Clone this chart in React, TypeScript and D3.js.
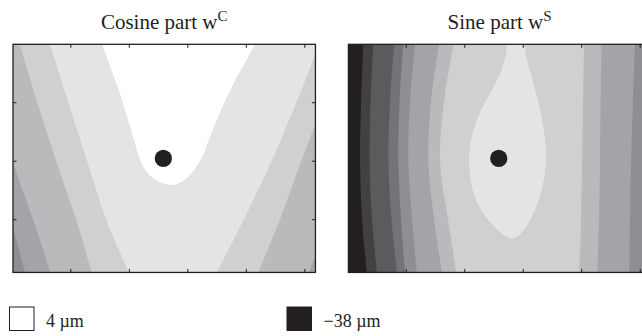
import React, { useEffect, useRef } from 'react';
import * as d3 from 'd3';

type Pt = [number, number];

// ---------- data ----------
const panelTitles = ['Cosine part w', 'Sine part w'];
const panelSuperscripts = ['C', 'S'];
const legendValues = [4, -38];
const legendLabels = ['4 µm', '−38 µm'];
// contour level fills, from highest (4 µm) to lowest (−38 µm)
const levelColors = ['#ffffff', '#e3e4e6', '#cfd0d2', '#b9babc', '#a3a4a7', '#8e8f92', '#737477', '#5a5b5d', '#414042', '#231f20'];
const xTicks = [-2, -1, 0, 1, 2];
const yTicks = [-1, 0, 1];
const xDomain: [number, number] = [-2.98, 2.19];
const yDomain: [number, number] = [-1.91, 1.99];
const markerPoint: Pt = [-0.41, 0.04];

// Cosine part: contour lines (top -> bottom)
const cosLine1: Pt[] = [[-3.087, -0.74], [-2.979, -1.15], [-2.877, -1.526], [-2.774, -1.908], [-2.689, -2.244]];
const cosLine2: Pt[] = [[-3.412, 1.209], [-2.985, -0.017], [-2.774, -0.621], [-2.574, -1.185], [-2.346, -1.908], [-2.244, -2.244]];
const cosLine2R: Pt[] = [[2.439, -1.014], [2.217, -1.561], [2.08, -1.908], [1.944, -2.244]];
const cosLine3: Pt[] = [[-2.962, 2.328], [-2.865, 1.99], [-2.569, 1.009], [-2.244, 0], [-1.903, -0.997], [-1.634, -1.908], [-1.526, -2.244]];
const cosLine3R: Pt[] = [[2.439, 1.294], [2.183, 0.61], [1.892, -0.159], [1.585, -0.997], [1.214, -1.908], [1.072, -2.244]];
const cosLine4: Pt[] = [[-2.45, 2.328], [-2.347, 1.99], [-2.039, 1.009], [-1.715, 0], [-1.39, -0.997], [-1.009, -1.908], [-0.894, -2.244]];
const cosLine4R: Pt[] = [[2.303, 2.147], [2.183, 1.806], [1.87, 1.009], [1.443, 0], [0.969, -0.997], [0.503, -1.908], [0.32, -2.244]];
const cosCore: Pt[] = [[-1.526, 2.234], [-1.458, 1.99], [-1.321, 1.619], [-1.185, 1.243], [-1.065, 0.867], [-0.962, 0.525], [-0.877, 0.234], [-0.791, -0.022], [-0.672, -0.219], [-0.535, -0.33], [-0.381, -0.398], [-0.262, -0.415], [-0.125, -0.373], [0.012, -0.279], [0.149, -0.108], [0.268, 0.097], [0.354, 0.32], [0.456, 0.576], [0.576, 0.867], [0.713, 1.157], [0.849, 1.431], [1.003, 1.704], [1.156, 1.99], [1.276, 2.234]];

// Sine part: contour lines (top -> bottom)
const sinLine1: Pt[] = [[-2.713, 2.234], [-2.725, 1.99], [-2.764, 1.009], [-2.781, 0], [-2.747, -0.997], [-2.667, -1.908], [-2.644, -2.244]];
const sinLine2: Pt[] = [[-2.542, 2.234], [-2.554, 1.99], [-2.602, 1.009], [-2.619, 0], [-2.576, -0.997], [-2.496, -1.908], [-2.474, -2.244]];
const sinLine3: Pt[] = [[-2.183, 2.234], [-2.2, 1.99], [-2.268, 1.009], [-2.297, 0], [-2.243, -0.997], [-2.154, -1.908], [-2.123, -2.244]];
const sinLine4: Pt[] = [[-2.021, 2.234], [-2.041, 1.99], [-2.106, 1.009], [-2.126, 0], [-2.08, -0.997], [-2.012, -1.908], [-1.986, -2.244]];
const sinLine5: Pt[] = [[-1.815, 2.234], [-1.841, 1.99], [-1.926, 1.009], [-1.956, 0], [-1.892, -0.997], [-1.812, -1.908], [-1.781, -2.244]];
const sinLine6: Pt[] = [[-1.397, 2.234], [-1.431, 1.99], [-1.568, 1.009], [-1.614, 0], [-1.516, -0.997], [-1.385, -1.908], [-1.345, -2.244]];
const sinLine7: Pt[] = [[-1.149, 2.234], [-1.186, 1.99], [-1.345, 1.009], [-1.414, 0], [-1.277, -0.997], [-1.14, -1.908], [-1.097, -2.244]];
const sinLine8: Pt[] = [[1.056, 2.234], [1.048, 1.99], [1.031, 1.009], [1.014, 0], [0.997, -0.997], [0.968, -1.908], [0.954, -2.244]];
const sinLine9: Pt[] = [[1.364, 2.234], [1.35, 1.99], [1.33, 1.009], [1.321, 0], [1.304, -0.997], [1.275, -1.908], [1.262, -2.244]];
const sinLine10: Pt[] = [[1.937, 2.234], [1.92, 1.99], [1.885, 1.009], [1.851, 0], [1.834, -0.997], [1.822, -1.908], [1.817, -2.244]];
const sinCore: Pt[] = [[-0.303, 2.234], [-0.268, 1.99], [-0.337, 1.619], [-0.491, 1.277], [-0.696, 0.901], [-0.832, 0.559], [-0.909, 0.183], [-0.909, -0.159], [-0.858, -0.501], [-0.747, -0.774], [-0.576, -1.031], [-0.371, -1.236], [-0.171, -1.33], [-0.012, -1.219], [0.159, -0.945], [0.296, -0.603], [0.373, -0.244], [0.398, 0.097], [0.373, 0.439], [0.304, 0.832], [0.176, 1.344], [0.074, 1.72], [0.031, 1.99], [0.022, 2.234]];

type Band = { level: number; left: Pt[] | null; right: Pt[] | null };
const cosBackground = 5;
const cosBands: Band[] = [
  { level: 4, left: cosLine1, right: null },
  { level: 3, left: cosLine2, right: cosLine2R },
  { level: 2, left: cosLine3, right: cosLine3R },
  { level: 1, left: cosLine4, right: cosLine4R },
];
const cosCoreLevel = 0;
const sinBackground = 9;
const sinBands: Band[] = [
  { level: 8, left: sinLine1, right: null },
  { level: 7, left: sinLine2, right: null },
  { level: 6, left: sinLine3, right: null },
  { level: 5, left: sinLine4, right: null },
  { level: 4, left: sinLine5, right: sinLine10 },
  { level: 3, left: sinLine6, right: sinLine9 },
  { level: 2, left: sinLine7, right: sinLine8 },
];
const sinCoreLevel = 1;

const panels = [
  { background: cosBackground, bands: cosBands, core: cosCore, coreLevel: cosCoreLevel },
  { background: sinBackground, bands: sinBands, core: sinCore, coreLevel: sinCoreLevel },
];

// ---------- layout ----------
const W = 642, H = 336;
const UNIT = 58.5;
const panelLefts = [13, 348.4];
const panelTop = 44.3;
const INK = '#231f20';
const FONT = '"Liberation Serif", "Times New Roman", Times, serif';

export default function App() {
  const ref = useRef<SVGSVGElement>(null);

  useEffect(() => {
    const svg = d3.select(ref.current);
    svg.selectAll('*').remove();
    const plotW = (xDomain[1] - xDomain[0]) * UNIT;
    const plotH = (yDomain[1] - yDomain[0]) * UNIT;

    panels.forEach((p, i) => {
      const x0 = panelLefts[i];
      const xs = d3.scaleLinear().domain(xDomain).range([x0, x0 + plotW]);
      const ys = d3.scaleLinear().domain(yDomain).range([panelTop + plotH, panelTop]);
      const line = d3.line<Pt>().x(d => xs(d[0])).y(d => ys(d[1])).curve(d3.curveCatmullRom.alpha(0.5));
      const corner = (x: number, y: number) => `L${xs(x)},${ys(y)}`;
      const bandPath = (b: Band) => {
        const L: Pt[] = b.left ?? [[-6, 3.5], [-6, -3.5]];
        const R: Pt[] = b.right ?? [[6, 3.5], [6, -3.5]];
        const lt = L[0], lb = L[L.length - 1], rt = R[0], rb = R[R.length - 1];
        return (line(L) as string) + corner(lb[0], -3.5) + corner(rb[0], -3.5) +
          (line([...R].reverse()) as string).replace(/^M/, 'L') + corner(rt[0], 3.5) + corner(lt[0], 3.5) + 'Z';
      };

      const clipId = `clip${i}`;
      svg.append('clipPath').attr('id', clipId).append('rect')
        .attr('x', xs(xDomain[0])).attr('y', ys(yDomain[1])).attr('width', plotW).attr('height', plotH);

      const g = svg.append('g').attr('clip-path', `url(#${clipId})`);
      g.append('rect').attr('x', xs(xDomain[0])).attr('y', ys(yDomain[1])).attr('width', plotW).attr('height', plotH)
        .attr('fill', levelColors[p.background]);
      p.bands.forEach(b => {
        g.append('path').attr('d', bandPath(b)).attr('fill', levelColors[b.level]);
      });
      g.append('path').attr('d', (line(p.core) as string) + 'Z').attr('fill', levelColors[p.coreLevel]);

      g.append('circle').attr('cx', xs(markerPoint[0])).attr('cy', ys(markerPoint[1])).attr('r', 8.6).attr('fill', INK);

      // axes with inward ticks
      const tk = 3.5;
      const axes = [
        { ax: d3.axisBottom(xs).tickValues(xTicks).tickSize(-tk), t: `translate(0,${ys(yDomain[0])})` },
        { ax: d3.axisTop(xs).tickValues(xTicks).tickSize(-tk), t: `translate(0,${ys(yDomain[1])})` },
        { ax: d3.axisLeft(ys).tickValues(yTicks).tickSize(-tk), t: `translate(${xs(xDomain[0])},0)` },
        { ax: d3.axisRight(ys).tickValues(yTicks).tickSize(-tk), t: `translate(${xs(xDomain[1])},0)` },
      ];
      axes.forEach(a => {
        const ag = g.append('g').attr('transform', a.t).call(a.ax.tickFormat(() => '') as any);
        ag.select('.domain').remove();
        ag.selectAll('line').attr('stroke', INK).attr('stroke-width', 1);
      });

      svg.append('rect').attr('x', xs(xDomain[0])).attr('y', ys(yDomain[1])).attr('width', plotW).attr('height', plotH)
        .attr('fill', 'none').attr('stroke', INK).attr('stroke-width', 1.3);

      // title
      const cx = x0 + plotW / 2;
      const t = svg.append('text').attr('x', cx).attr('y', 28.5).attr('text-anchor', 'middle')
        .attr('font-family', FONT).attr('font-size', 21).attr('fill', INK);
      t.append('tspan').text(panelTitles[i]);
      t.append('tspan').attr('dy', -8).attr('font-size', 15).text(panelSuperscripts[i]);
    });

    // legend
    const legendX = [9.5, 287];
    const legendColor = d3.scaleLinear<string>().domain([legendValues[1], legendValues[0]])
      .range([levelColors[levelColors.length - 1], levelColors[0]]);
    legendValues.forEach((v, i) => {
      svg.append('rect').attr('x', legendX[i]).attr('y', 307).attr('width', 24.5).attr('height', 23.5)
        .attr('fill', legendColor(v)).attr('stroke', INK).attr('stroke-width', 1);
      svg.append('text').attr('x', legendX[i] + 36.5).attr('y', 327).attr('font-family', FONT)
        .attr('font-size', 18).attr('fill', INK).text(legendLabels[i]);
    });
  }, []);

  return (
    <svg ref={ref} width={W} height={H} style={{ position: 'absolute', left: 0, top: 0, background: '#fff' }} />
  );
}
